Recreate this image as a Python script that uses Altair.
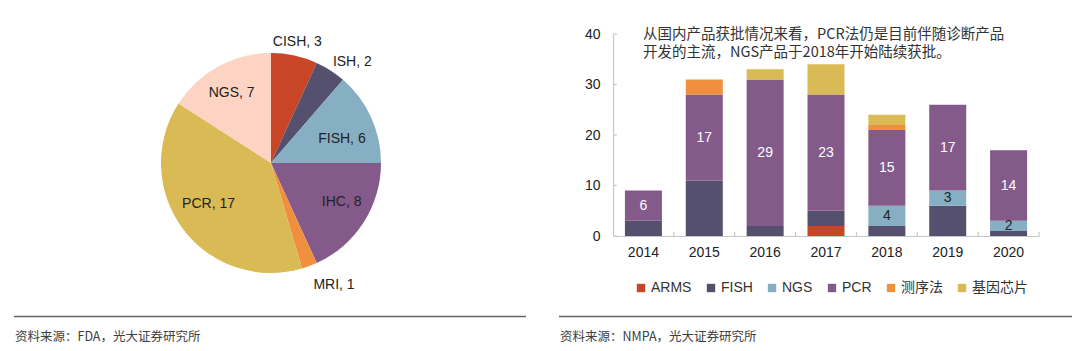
import altair as alt
import pandas as pd

# ---------------- data ----------------
pie_labels = ["CISH", "ISH", "FISH", "IHC", "MRI", "PCR", "NGS"]
pie_values = [3, 2, 6, 8, 1, 17, 7]
pie_colors = ["#C84526", "#56506F", "#86AFC3", "#845A8A", "#F0903F", "#D9BA55", "#FDD4C3"]

years = ["2014", "2015", "2016", "2017", "2018", "2019", "2020"]
series_names = ["ARMS", "FISH", "NGS", "PCR", "测序法", "基因芯片"]
series_colors = ["#C84526", "#56506F", "#86AFC3", "#845A8A", "#F0903F", "#D9BA55"]
arms = [0, 0, 0, 2, 0, 0, 0]
fish = [3, 11, 2, 3, 2, 6, 1]
ngs = [0, 0, 0, 0, 4, 3, 2]
pcr = [6, 17, 29, 23, 15, 17, 14]
seq = [0, 3, 0, 0, 1, 0, 0]
chip = [0, 0, 2, 6, 2, 0, 0]
y_ticks = [0, 10, 20, 30, 40]

note_lines = ["从国内产品获批情况来看，PCR法仍是目前伴随诊断产品",
              "开发的主流，NGS产品于2018年开始陆续获批。"]
source_left = "资料来源：FDA，光大证券研究所"
source_right = "资料来源：NMPA，光大证券研究所"

# ---------------- layout / style ----------------
W, H = 1080, 351
LAT = "Liberation Sans, Arial, Noto Sans CJK SC"
CJK = "Noto Sans CJK SC, Noto Sans, sans-serif"
TXT = "#222222"
AXC = "#C8C8C8"
CX, CY, R = 271, 163, 110
PL, PR, PT, PB = 613, 1039, 34, 236
P_INNER = 0.392
STEP = (PR - PL) / len(years)

# label placement style per pie slice group: (names, radius, align, dx, dy)
PIE_LABEL_STYLE = [
    (["CISH"], 124, "center", 0, 0),
    (["ISH"], 120, "left", -3, 0),
    (["MRI"], 130, "left", -3, 0),
    (["FISH"], 78, "center", 0, 8),
    (["IHC"], 84, "center", 0, -6),
    (["PCR"], 78, "center", 0, -6),
    (["NGS"], 82, "center", 0, 2),
]

# ---------------- tables ----------------
pie_df = pd.DataFrame({"pcat": pie_labels, "value": pie_values,
                       "idx": list(range(len(pie_labels)))})
pie_df["label"] = [f"{c}, {v}" for c, v in zip(pie_labels, pie_values)]

rows = []
for k, (name, vals) in enumerate(zip(series_names, [arms, fish, ngs, pcr, seq, chip])):
    for yr, v in zip(years, vals):
        if v > 0:
            rows.append({"year": yr, "bcat": name, "value": v, "order": k})
bar_df = pd.DataFrame(rows)
one = pd.DataFrame({"k": [0]})

# ---------------- pie ----------------
pie_base = alt.Chart(pie_df).encode(
    theta=alt.Theta("value:Q", stack=True),
    order=alt.Order("idx:Q"),
    x=alt.value(CX), y=alt.value(CY),
)
pie = pie_base.mark_arc(outerRadius=R).encode(
    color=alt.Color("pcat:N", scale=alt.Scale(domain=pie_labels, range=pie_colors), legend=None)
)


def pie_text(names, radius, align, dx=0, dy=0):
    return pie_base.mark_text(radius=radius, align=align, dx=dx, dy=dy, baseline="middle",
                              font=LAT, fontSize=14, fill=TXT).encode(
        text=alt.condition(alt.FieldOneOfPredicate(field="pcat", oneOf=names),
                           alt.Text("label:N"), alt.value(""))
    )


pie_texts = [pie_text(*spec) for spec in PIE_LABEL_STYLE]

# ---------------- bars ----------------
x_scale = alt.Scale(domain=years, range=[PL, PR], paddingInner=P_INNER, paddingOuter=P_INNER / 2)
y_scale = alt.Scale(domain=[0, 40], range=[PB, PT])
x_axis = alt.Axis(title=None, orient="bottom", offset=-(H - PB), labelAngle=0, labelFont=LAT,
                  labelFontSize=14, labelColor=TXT, labelPadding=9, ticks=False, tickSize=0,
                  domainColor=AXC, domainWidth=1.2, grid=False)
y_axis = alt.Axis(title=None, orient="left", offset=-PL, values=y_ticks, labelFont=LAT,
                  labelFontSize=14, labelColor=TXT, labelPadding=13, ticks=False, tickSize=0,
                  domainColor=AXC, domainWidth=1.2, grid=False)

bars = alt.Chart(bar_df).mark_bar().encode(
    x=alt.X("year:N", scale=x_scale, axis=x_axis),
    y=alt.Y("value:Q", stack="zero", scale=y_scale, axis=y_axis),
    color=alt.Color("bcat:N", scale=alt.Scale(domain=series_names, range=series_colors),
                    legend=alt.Legend(title=None, orient="none", legendX=634, legendY=281,
                                      direction="horizontal", symbolType="square",
                                      symbolSize=70, symbolStrokeWidth=0, labelFont=LAT,
                                      labelFontSize=14, labelColor="#333333", labelOffset=3,
                                      columnPadding=12, padding=0)),
    order=alt.Order("order:Q", sort="ascending"),
)

lab_base = alt.Chart(bar_df).transform_stack(
    stack="value", groupby=["year"], as_=["y0", "y1"],
    sort=[alt.SortField("order", order="ascending")],
).transform_calculate(mid="(datum.y0 + datum.y1) / 2").encode(
    x=alt.X("year:N", scale=x_scale, axis=x_axis),
    y=alt.Y("mid:Q", scale=y_scale, axis=y_axis),
    text=alt.Text("value:Q"),
)
lab_pcr = lab_base.transform_filter(alt.datum.bcat == "PCR").mark_text(
    font=LAT, fontSize=14, fill="white", baseline="middle")
lab_ngs = lab_base.transform_filter(alt.datum.bcat == "NGS").mark_text(
    font=LAT, fontSize=14, fill=TXT, baseline="middle")

ytick = alt.Chart(pd.DataFrame({"v": y_ticks})).mark_rule(color=AXC, strokeWidth=1.2).encode(
    y=alt.Y("v:Q", scale=y_scale, axis=y_axis), x=alt.value(PL), x2=alt.value(PL + 4))
xtick = alt.Chart(pd.DataFrame({"year": years})).mark_rule(
    color=AXC, strokeWidth=1.2, xOffset=STEP * P_INNER / 2).encode(
    x=alt.X("year:N", bandPosition=1, scale=x_scale, axis=x_axis),
    y=alt.value(PB - 4), y2=alt.value(PB))

note1 = alt.Chart(one).mark_text(align="left", baseline="middle", font=CJK, fontSize=14.5,
                                 fill="#333333", text=note_lines[0]).encode(
    x=alt.value(643), y=alt.value(35))
note2 = alt.Chart(one).mark_text(align="left", baseline="middle", font=CJK, fontSize=14.5,
                                 fill="#333333", text=note_lines[1]).encode(
    x=alt.value(643), y=alt.value(53))

# ---------------- footers ----------------
rule_l = alt.Chart(one).mark_rule(color="#666666", strokeWidth=1.3).encode(
    x=alt.value(14), x2=alt.value(526), y=alt.value(316.5))
rule_r = alt.Chart(one).mark_rule(color="#666666", strokeWidth=1.3).encode(
    x=alt.value(559), x2=alt.value(1072), y=alt.value(316.5))
src_l = alt.Chart(one).mark_text(align="left", baseline="middle", font=CJK, fontSize=12.5,
                                 fill="#404040", text=source_left).encode(
    x=alt.value(15), y=alt.value(337))
src_r = alt.Chart(one).mark_text(align="left", baseline="middle", font=CJK, fontSize=12.5,
                                 fill="#404040", text=source_right).encode(
    x=alt.value(560), y=alt.value(337))

chart = alt.layer(
    pie, *pie_texts,
    bars, lab_pcr, lab_ngs, ytick, xtick, note1, note2,
    rule_l, rule_r, src_l, src_r,
).resolve_scale(color="independent").properties(
    width=W, height=H, padding=0, background="white",
    autosize=alt.AutoSizeParams(type="none"),
).configure_view(stroke=None)

chart.save("out.html", embed_options={"renderer": "svg", "actions": False})
